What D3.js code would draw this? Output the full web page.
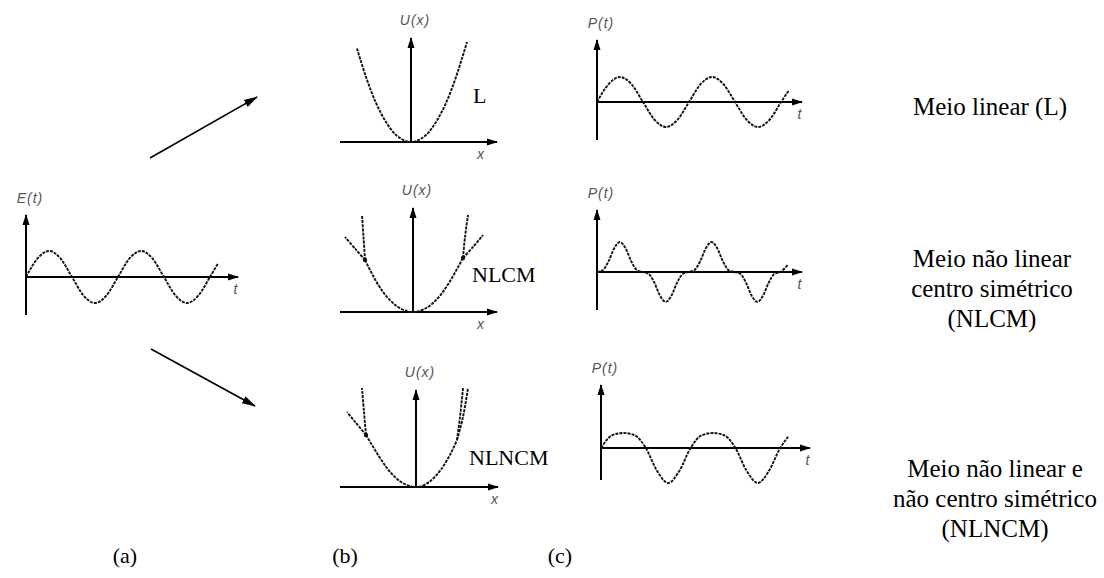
<!DOCTYPE html>
<html>
<head>
<meta charset="utf-8">
<script src="https://cdn.jsdelivr.net/npm/d3@7"></script>
<style>
  html, body { margin: 0; padding: 0; background: #fff; }
  svg { display: block; }
</style>
</head>
<body>
<svg id="fig" width="1104" height="578"></svg>
<script>
// time samples, in quarter periods
const tHalf = [0, 0.5, 1, 1.5, 2, 2.5, 3, 3.5, 4, 4.5, 5, 5.5, 6, 6.5, 7, 7.5, 8, 8.35];
const tQuarter = [0, 0.25, 0.5, 0.75, 1, 1.25, 1.5, 1.75, 2, 2.25, 2.5, 2.75, 3, 3.25, 3.5, 3.75,
  4, 4.25, 4.5, 4.75, 5, 5.25, 5.5, 5.75, 6, 6.25, 6.5, 6.75, 7, 7.25, 7.5, 7.75, 8, 8.35];

// (a) applied field E(t)
const fieldE = [0, 0.71, 1, 0.71, 0, -0.71, -1, -0.71, 0, 0.71, 1, 0.71, 0, -0.71, -1, -0.71, 0, 0.52];
// (c) polarisation responses
const polLinear = [0, 0.71, 1, 0.71, 0, -0.71, -1, -0.71, 0, 0.71, 1, 0.71, 0, -0.71, -1, -0.71, 0, 0.48];
const polCentro = [0, 0.06, 0.35, 0.79, 1, 0.79, 0.35, 0.06, 0, -0.06, -0.35, -0.79, -1, -0.79, -0.35, -0.06,
  0, 0.06, 0.35, 0.79, 1, 0.79, 0.35, 0.06, 0, -0.06, -0.35, -0.79, -1, -0.79, -0.35, -0.06, 0, 0.25];
const polNonCentro = [0, 0.51, 0.6, 0.51, 0, -0.91, -1.4, -0.91, 0, 0.51, 0.6, 0.51, 0, -0.91, -1.4, -0.91, 0, 0.45];

// (b) potential curves U(x)
const uLinear = [[-1.08, 1.87], [-0.9, 1.3], [-0.7, 0.78], [-0.5, 0.4], [-0.3, 0.14], [-0.1, 0.016], [0, 0],
  [0.1, 0.016], [0.3, 0.14], [0.5, 0.4], [0.7, 0.78], [0.9, 1.3], [1.12, 2.0]];
const uCentroBase = [[-0.96, 1.04], [-0.7, 0.55], [-0.5, 0.28], [-0.3, 0.1], [-0.1, 0.01], [0, 0],
  [0.1, 0.01], [0.3, 0.1], [0.5, 0.28], [0.7, 0.55], [1.0, 1.08]];
const uCentroBranches = [
  [[-0.96, 1.04], [-0.99, 1.5], [-1.02, 1.94]],
  [[-0.96, 1.04], [-1.16, 1.27], [-1.36, 1.5]],
  [[1.0, 1.08], [1.04, 1.5], [1.1, 1.94]],
  [[1.0, 1.08], [1.2, 1.3], [1.4, 1.54]]
];
const uNonBase = [[-1.0, 1.04], [-0.7, 0.55], [-0.5, 0.28], [-0.3, 0.1], [-0.1, 0.01], [0, 0],
  [0.1, 0.01], [0.3, 0.13], [0.5, 0.35], [0.7, 0.68], [0.82, 0.94]];
const uNonBranches = [
  [[-1.0, 1.04], [-1.04, 1.5], [-1.08, 1.98]],
  [[-1.0, 1.04], [-1.2, 1.28], [-1.38, 1.5]],
  [[0.82, 0.94], [0.88, 1.4], [0.94, 1.98]],
  [[0.82, 0.94], [0.94, 1.4], [1.04, 1.98]]
];
const uCentroDots = [[-0.96, 1.04], [1.0, 1.08]];
const uNonDots = [[-1.0, 1.04]];

const mediumNames = [
  ['Meio linear (L)'],
  ['Meio não linear', 'centro simétrico', '(NLCM)'],
  ['Meio não linear e', 'não centro simétrico', '(NLNCM)']
];
const curveTags = ['L', 'NLCM', 'NLNCM'];
const panelTags = ['(a)', '(b)', '(c)'];

const svg = d3.select('#fig');
const defs = svg.append('defs');
defs.append('marker')
  .attr('id', 'ah').attr('markerUnits', 'userSpaceOnUse')
  .attr('markerWidth', 11).attr('markerHeight', 8)
  .attr('refX', 10).attr('refY', 4).attr('orient', 'auto')
  .append('path').attr('d', 'M0,0.5L11,4L0,7.5Z').attr('fill', '#000');
defs.append('marker')
  .attr('id', 'ahBig').attr('markerUnits', 'userSpaceOnUse')
  .attr('markerWidth', 14).attr('markerHeight', 9)
  .attr('refX', 13).attr('refY', 4.5).attr('orient', 'auto')
  .append('path').attr('d', 'M0,0.5L14,4.5L0,8.5Z').attr('fill', '#000');

const serif = "'Liberation Serif', 'Times New Roman', serif";
const dashed = sel => sel.attr('fill', 'none').attr('stroke', '#111')
  .attr('stroke-width', 1.9).attr('stroke-dasharray', '3 1.1');
const axisLine = sel => sel.attr('stroke', '#000').attr('stroke-width', 2);
const italicLabel = (g, x, y, txt, size) => g.append('text')
  .attr('x', x).attr('y', y).attr('text-anchor', 'middle')
  .attr('font-family', "'Liberation Sans', Arial, sans-serif").attr('font-style', 'italic')
  .attr('font-size', size || 14).attr('fill', '#555').attr('letter-spacing', 1)
  .text(txt);

// time-domain panels: pixel box + data extent
function wavePanel(box, dom, t, v, yLabel) {
  const g = svg.append('g');
  const x = d3.scaleLinear().domain([0, dom.tMax]).range([box.x0, box.x1]);
  const y = d3.scaleLinear().domain([dom.vMin, dom.vMax]).range([box.y1, box.y0]);
  g.append('line').call(axisLine)
    .attr('x1', x(0)).attr('x2', x(0)).attr('y1', y(dom.vMin)).attr('y2', y(dom.vMax))
    .attr('marker-end', 'url(#ah)');
  g.append('line').call(axisLine)
    .attr('x1', x(0)).attr('x2', x(dom.tMax)).attr('y1', y(0)).attr('y2', y(0))
    .attr('marker-end', 'url(#ah)');
  const line = d3.line().x((d, i) => x(t[i])).y(d => y(d)).curve(d3.curveMonotoneX);
  g.append('path').datum(v).call(dashed).attr('d', line);
  italicLabel(g, x(0) + 4, y(dom.vMax) - 12, yLabel, 14);
  italicLabel(g, x(dom.tMax) - 2, y(0) + 17, 't', 14);
  return g;
}

wavePanel({x0: 26, x1: 238, y0: 215, y1: 315}, {tMax: 9.22, vMin: -1.46, vMax: 2.38}, tHalf, fieldE, 'E(t)');
wavePanel({x0: 597, x1: 802, y0: 40, y1: 140}, {tMax: 8.91, vMin: -1.52, vMax: 2.48}, tHalf, polLinear, 'P(t)');
wavePanel({x0: 597, x1: 802, y0: 210, y1: 310}, {tMax: 8.95, vMin: -1.27, vMax: 2.07}, tQuarter, polCentro, 'P(t)');
wavePanel({x0: 601, x1: 810, y0: 385, y1: 480}, {tMax: 9.33, vMin: -1.28, vMax: 2.52}, tHalf, polNonCentro, 'P(t)');

// potential panels
function potentialPanel(box, dom, curves, dots, tag, tagPos, xLabDx) {
  const g = svg.append('g');
  const x = d3.scaleLinear().domain([dom.xMin, dom.xMax]).range([box.x0, box.x1]);
  const y = d3.scaleLinear().domain([0, dom.uMax]).range([box.y1, box.y0]);
  g.append('line').call(axisLine)
    .attr('x1', x(0)).attr('x2', x(0)).attr('y1', y(0)).attr('y2', y(dom.uMax))
    .attr('marker-end', 'url(#ah)');
  g.append('line').call(axisLine)
    .attr('x1', x(dom.xMin)).attr('x2', x(dom.xMax)).attr('y1', y(0)).attr('y2', y(0))
    .attr('marker-end', 'url(#ah)');
  const line = d3.line().x(d => x(d[0])).y(d => y(d[1])).curve(d3.curveCatmullRom);
  g.selectAll('path.u').data(curves).join('path').attr('class', 'u').call(dashed).attr('d', line);
  g.selectAll('circle').data(dots).join('circle')
    .attr('cx', d => x(d[0])).attr('cy', d => y(d[1])).attr('r', 2.2).attr('fill', '#111');
  italicLabel(g, x(0) + 4, y(dom.uMax) - 13, 'U(x)', 14);
  italicLabel(g, x(dom.xMax) + xLabDx, y(0) + 17, 'x', 14);
  g.append('text').attr('x', tagPos[0]).attr('y', tagPos[1])
    .attr('font-family', serif).attr('font-size', 22)
    .text(tag);
  return g;
}

potentialPanel({x0: 340, x1: 497, y0: 38, y1: 142}, {xMin: -1.42, xMax: 1.72, uMax: 2.08},
  [uLinear], [], curveTags[0], [473, 103], -16);
potentialPanel({x0: 340, x1: 497, y0: 208, y1: 312}, {xMin: -1.46, xMax: 1.68, uMax: 2.08},
  [uCentroBase].concat(uCentroBranches), uCentroDots, curveTags[1], [472, 282], -16);
potentialPanel({x0: 340, x1: 498, y0: 390, y1: 487}, {xMin: -1.52, xMax: 1.64, uMax: 1.94},
  [uNonBase].concat(uNonBranches), uNonDots, curveTags[2], [469, 465], -3);

// arrows from (a) to the two non-linear... and linear media
const arrows = [[[150, 158], [257, 97]], [[151, 349], [255, 406]]];
svg.selectAll('line.big').data(arrows).join('line').attr('class', 'big')
  .attr('x1', d => d[0][0]).attr('y1', d => d[0][1])
  .attr('x2', d => d[1][0]).attr('y2', d => d[1][1])
  .attr('stroke', '#000').attr('stroke-width', 1.6).attr('marker-end', 'url(#ahBig)');

// medium descriptions
const descY = [115, 267, 477];
const descX = [990, 992, 995];
mediumNames.forEach((lines, i) => {
  const t = svg.append('text')
    .attr('font-family', serif).attr('font-size', 25)
    .attr('text-anchor', 'middle').attr('fill', '#000');
  lines.forEach((s, j) => t.append('tspan').attr('x', descX[i]).attr('y', descY[i] + j * 30).text(s));
});

// panel letters
const tagX = [125, 345, 560];
svg.selectAll('text.ptag').data(panelTags).join('text').attr('class', 'ptag')
  .attr('x', (d, i) => tagX[i]).attr('y', 563).attr('text-anchor', 'middle')
  .attr('font-family', serif).attr('font-size', 22)
  .text(d => d);
</script>
</body>
</html>
